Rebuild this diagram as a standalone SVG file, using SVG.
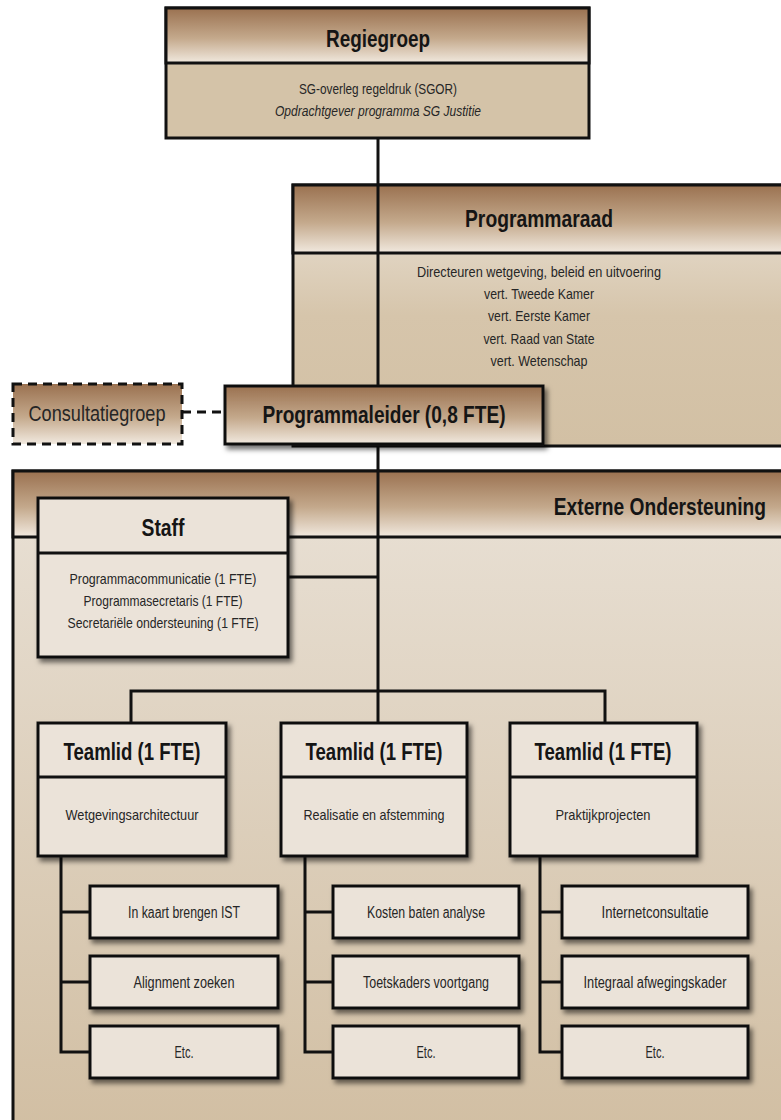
<svg xmlns="http://www.w3.org/2000/svg" width="781" height="1120" viewBox="0 0 781 1120">
  <defs>
    <linearGradient id="hdr" x1="0" y1="0" x2="0" y2="1">
      <stop offset="0" stop-color="#9a7150"/>
      <stop offset="0.55" stop-color="#c4a98c"/>
      <stop offset="1" stop-color="#f1e9df"/>
    </linearGradient>
    <linearGradient id="pale" x1="0" y1="0" x2="0" y2="1">
      <stop offset="0" stop-color="#ebe3d8"/>
      <stop offset="0.5" stop-color="#d6c5ab"/>
      <stop offset="1" stop-color="#d2c0a4"/>
    </linearGradient>
    <linearGradient id="ext" x1="0" y1="0" x2="0" y2="1">
      <stop offset="0" stop-color="#e9e1d6"/>
      <stop offset="1" stop-color="#d1bea2"/>
    </linearGradient>
    <filter id="shadow" x="-10%" y="-10%" width="125%" height="130%">
      <feDropShadow dx="3" dy="4" stdDeviation="2.5" flood-color="#000" flood-opacity="0.55"/>
    </filter>
    <style>
      .box { stroke: #111; stroke-width: 3; }
      .line { stroke: #111; stroke-width: 3; fill: none; }
      .card { fill: #ebe3d9; stroke: #111; stroke-width: 3; filter: url(#shadow); }
      text { font-family: "Liberation Sans Narrow", "Liberation Sans", Arial, sans-serif; text-anchor: middle; }
      .title { font-weight: bold; font-size: 24px; fill: #151515; }
      .body { font-size: 15px; fill: #262626; }
      .item { font-size: 16px; fill: #262626; }
      .end { text-anchor: end; }
    </style>
  </defs>

  <rect width="781" height="1120" fill="#ffffff"/>

  <!-- Regiegroep -->
  <g id="regiegroep">
    <rect x="166" y="8" width="423" height="130" fill="#d4c3a8" class="box"/>
    <rect x="166" y="8" width="423" height="55" fill="url(#hdr)" class="box"/>
    <text x="378" y="47" class="title" textLength="104" lengthAdjust="spacingAndGlyphs">Regiegroep</text>
    <text x="378" y="94" class="body" textLength="158" lengthAdjust="spacingAndGlyphs">SG-overleg regeldruk (SGOR)</text>
    <text x="378" y="116" class="body" font-style="italic" textLength="206" lengthAdjust="spacingAndGlyphs">Opdrachtgever programma SG Justitie</text>
  </g>

  <!-- Programmaraad -->
  <g id="programmaraad">
    <rect x="293" y="185" width="500" height="261" fill="url(#pale)" class="box"/>
    <rect x="293" y="185" width="500" height="68" fill="url(#hdr)" class="box"/>
    <text x="539" y="227" class="title" textLength="148" lengthAdjust="spacingAndGlyphs">Programmaraad</text>
    <text x="539" y="277" class="body" textLength="244" lengthAdjust="spacingAndGlyphs">Directeuren wetgeving, beleid en uitvoering</text>
    <text x="539" y="299" class="body" textLength="110" lengthAdjust="spacingAndGlyphs">vert. Tweede Kamer</text>
    <text x="539" y="321" class="body" textLength="102" lengthAdjust="spacingAndGlyphs">vert. Eerste Kamer</text>
    <text x="539" y="344" class="body" textLength="111" lengthAdjust="spacingAndGlyphs">vert. Raad van State</text>
    <text x="539" y="366" class="body" textLength="97" lengthAdjust="spacingAndGlyphs">vert. Wetenschap</text>
  </g>

  <!-- Externe Ondersteuning -->
  <g id="externe-ondersteuning">
    <rect x="13" y="471" width="790" height="670" fill="url(#ext)" class="box"/>
    <rect x="13" y="471" width="790" height="66" fill="url(#hdr)" class="box"/>
    <text transform="translate(766 515) scale(0.8 1)" x="0" y="0" class="title end">Externe Ondersteuning</text>
  </g>

  <!-- Connectors -->
  <g id="connectors">
    <line x1="378" y1="138" x2="378" y2="386" class="line"/>
    <line x1="378" y1="444" x2="378" y2="723" class="line"/>
    <line x1="288" y1="577" x2="378" y2="577" class="line"/>
    <polyline points="131,723 131,691 605,691 605,723" class="line"/>
    <line x1="182" y1="412" x2="225" y2="412" class="line" stroke-dasharray="9,6"/>
    <polyline points="61,856 61,1052 90,1052" class="line"/>
    <line x1="61" y1="912" x2="90" y2="912" class="line"/>
    <line x1="61" y1="982" x2="90" y2="982" class="line"/>
    <polyline points="305,856 305,1052 333,1052" class="line"/>
    <line x1="305" y1="912" x2="333" y2="912" class="line"/>
    <line x1="305" y1="982" x2="333" y2="982" class="line"/>
    <polyline points="540,856 540,1052 562,1052" class="line"/>
    <line x1="540" y1="912" x2="562" y2="912" class="line"/>
    <line x1="540" y1="982" x2="562" y2="982" class="line"/>
  </g>

  <!-- Consultatiegroep -->
  <g id="consultatiegroep">
    <rect x="13" y="384" width="169" height="60" fill="url(#hdr)" stroke="#111" stroke-width="3" stroke-dasharray="9,6"/>
    <text x="97" y="421" style="font-size:22px" fill="#262626" textLength="137" lengthAdjust="spacingAndGlyphs">Consultatiegroep</text>
  </g>

  <!-- Programmaleider -->
  <g id="programmaleider">
    <rect x="225" y="386" width="318" height="58" fill="url(#hdr)" class="box" filter="url(#shadow)"/>
    <text x="384" y="423" class="title" textLength="243" lengthAdjust="spacingAndGlyphs">Programmaleider (0,8 FTE)</text>
  </g>

  <!-- Staff -->
  <g id="staff">
    <rect x="38" y="498" width="250" height="159" class="card"/>
    <line x1="38" y1="553" x2="288" y2="553" class="line"/>
    <text x="163" y="536" class="title" textLength="43" lengthAdjust="spacingAndGlyphs">Staff</text>
    <text x="163" y="584" class="body" textLength="187" lengthAdjust="spacingAndGlyphs">Programmacommunicatie (1 FTE)</text>
    <text x="163" y="606" class="body" textLength="159" lengthAdjust="spacingAndGlyphs">Programmasecretaris (1 FTE)</text>
    <text x="163" y="628" class="body" textLength="191" lengthAdjust="spacingAndGlyphs">Secretariële ondersteuning (1 FTE)</text>
  </g>

  <!-- Teamleden -->
  <g id="teamlid-wetgeving">
    <rect x="38" y="723" width="188" height="133" class="card"/>
    <line x1="38" y1="777" x2="226" y2="777" class="line"/>
    <text x="132" y="760" class="title" textLength="137" lengthAdjust="spacingAndGlyphs">Teamlid (1 FTE)</text>
    <text x="132" y="820" class="body" textLength="133" lengthAdjust="spacingAndGlyphs">Wetgevingsarchitectuur</text>
  </g>
  <g id="teamlid-realisatie">
    <rect x="281" y="723" width="186" height="133" class="card"/>
    <line x1="281" y1="777" x2="467" y2="777" class="line"/>
    <text x="374" y="760" class="title" textLength="137" lengthAdjust="spacingAndGlyphs">Teamlid (1 FTE)</text>
    <text x="374" y="820" class="body" textLength="141" lengthAdjust="spacingAndGlyphs">Realisatie en afstemming</text>
  </g>
  <g id="teamlid-praktijk">
    <rect x="510" y="723" width="187" height="133" class="card"/>
    <line x1="510" y1="777" x2="697" y2="777" class="line"/>
    <text x="603" y="760" class="title" textLength="137" lengthAdjust="spacingAndGlyphs">Teamlid (1 FTE)</text>
    <text x="603" y="820" class="body" textLength="95" lengthAdjust="spacingAndGlyphs">Praktijkprojecten</text>
  </g>

  <!-- Work items -->
  <g id="item-ist"><rect x="90" y="886" width="188" height="52" class="card"/><text x="184" y="918" class="item" textLength="112" lengthAdjust="spacingAndGlyphs">In kaart brengen IST</text></g>
  <g id="item-alignment"><rect x="90" y="956" width="188" height="52" class="card"/><text x="184" y="988" class="item" textLength="101" lengthAdjust="spacingAndGlyphs">Alignment zoeken</text></g>
  <g id="item-etc-1"><rect x="90" y="1026" width="188" height="52" class="card"/><text x="184" y="1058" class="item" textLength="19" lengthAdjust="spacingAndGlyphs">Etc.</text></g>

  <g id="item-kosten"><rect x="333" y="886" width="186" height="52" class="card"/><text x="426" y="918" class="item" textLength="118" lengthAdjust="spacingAndGlyphs">Kosten baten analyse</text></g>
  <g id="item-toetskaders"><rect x="333" y="956" width="186" height="52" class="card"/><text x="426" y="988" class="item" textLength="126" lengthAdjust="spacingAndGlyphs">Toetskaders voortgang</text></g>
  <g id="item-etc-2"><rect x="333" y="1026" width="186" height="52" class="card"/><text x="426" y="1058" class="item" textLength="19" lengthAdjust="spacingAndGlyphs">Etc.</text></g>

  <g id="item-internet"><rect x="562" y="886" width="186" height="52" class="card"/><text x="655" y="918" class="item" textLength="107" lengthAdjust="spacingAndGlyphs">Internetconsultatie</text></g>
  <g id="item-integraal"><rect x="562" y="956" width="186" height="52" class="card"/><text x="655" y="988" class="item" textLength="143" lengthAdjust="spacingAndGlyphs">Integraal afwegingskader</text></g>
  <g id="item-etc-3"><rect x="562" y="1026" width="186" height="52" class="card"/><text x="655" y="1058" class="item" textLength="19" lengthAdjust="spacingAndGlyphs">Etc.</text></g>
</svg>
